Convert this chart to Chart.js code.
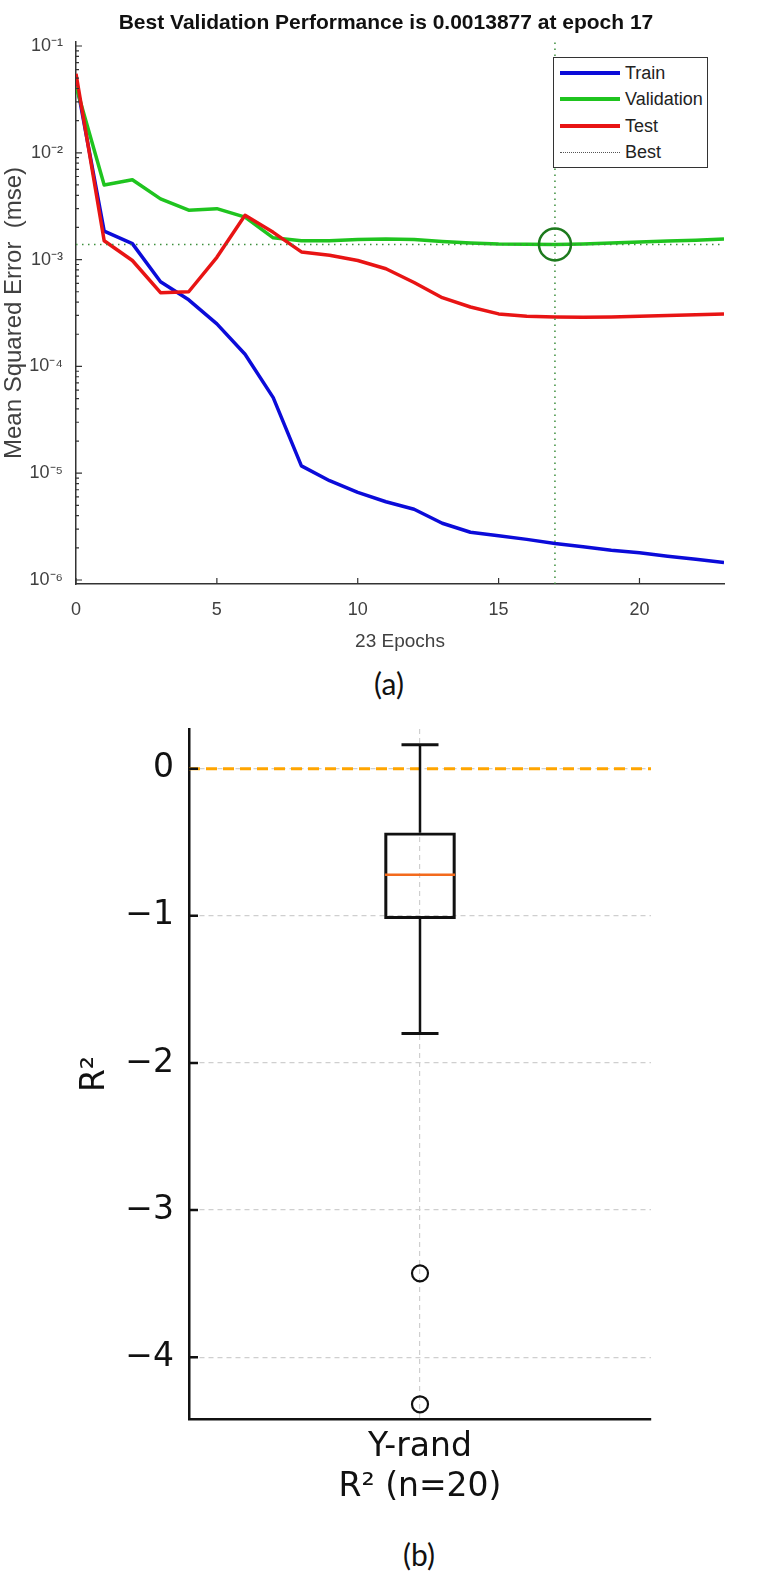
<!DOCTYPE html>
<html>
<head>
<meta charset="utf-8">
<script src="https://cdn.jsdelivr.net/npm/chart.js@4.4.1/dist/chart.umd.min.js"></script>
<style>
    html, body { margin: 0; padding: 0; background: #fff; }
    body { width: 769px; height: 1583px; position: relative; overflow: hidden; }
    .wrap { position: absolute; left: 0; width: 769px; }
    #wrapA { top: 0; height: 660px; }
    #wrapB { top: 700px; height: 820px; }
    .panel { position: absolute; transform: translate(-50%, -50%); font-family: Lato, "Open Sans", sans-serif; font-size: 30px; color: #111; }
    #titleA { position: absolute; left: 386px; top: 22px; transform: translate(-50%, -50%); white-space: nowrap; font-family: "Liberation Sans", Arial, sans-serif; font-size: 21px; font-weight: bold; color: #111; }
    #legendA { position: absolute; left: 553px; top: 57px; width: 153px; height: 107px; border: 1.5px solid #333; background: #fff; padding-top: 2px; box-sizing: content-box; font-family: "Liberation Sans", Arial, sans-serif; font-size: 18px; color: #222; }
    #legendA .row { position: relative; height: 26.3px; line-height: 26.3px; padding-left: 71px; }
    #legendA .swatch { position: absolute; left: 6px; top: 13px; width: 60px; height: 0; }
</style>
</head>
<body>
<div class="wrap" id="wrapA"><canvas id="chartA" width="769" height="660"></canvas></div>
<div id="titleA">Best Validation Performance is 0.0013877 at epoch 17</div>
<div id="legendA"></div>
<div class="panel" style="left:389px; top:683px;">(a)</div>
<div class="wrap" id="wrapB"><canvas id="chartB" width="769" height="820"></canvas></div>
<div class="panel" style="left:419px; top:1554px;">(b)</div>

<script>
// ---- (a) training performance ----
const epochs = [0, 1, 2, 3, 4, 5, 6, 7, 8, 9, 10, 11, 12, 13, 14, 15, 16, 17, 18, 19, 20, 21, 22, 23];
const trainMse = [0.048, 1.85e-3, 1.41e-3, 6.2e-4, 4.2e-4, 2.5e-4, 1.3e-4, 5.1e-5, 1.17e-5, 8.5e-6, 6.6e-6, 5.4e-6,
    4.6e-6, 3.4e-6, 2.8e-6, 2.6e-6, 2.4e-6, 2.2e-6, 2.05e-6, 1.9e-6, 1.8e-6, 1.67e-6, 1.56e-6, 1.46e-6];
const valMse = [0.042, 5.0e-3, 5.6e-3, 3.7e-3, 2.9e-3, 3.0e-3, 2.5e-3, 1.6e-3, 1.5e-3, 1.5e-3, 1.54e-3, 1.56e-3,
    1.54e-3, 1.48e-3, 1.43e-3, 1.40e-3, 1.39e-3, 1.3877e-3, 1.40e-3, 1.43e-3, 1.46e-3, 1.49e-3, 1.52e-3, 1.56e-3];
const testMse = [0.055, 1.5e-3, 9.8e-4, 4.9e-4, 5.0e-4, 1.05e-3, 2.6e-3, 1.8e-3, 1.18e-3, 1.1e-3, 9.8e-4, 8.2e-4,
    6.1e-4, 4.4e-4, 3.6e-4, 3.1e-4, 2.95e-4, 2.9e-4, 2.88e-4, 2.9e-4, 2.95e-4, 3.0e-4, 3.05e-4, 3.1e-4];
const bestEpoch = 17;
const bestPerf = 0.0013877;
const xTicksA = [0, 5, 10, 15, 20];
const yTicksA = [1e-6, 1e-5, 1e-4, 1e-3, 1e-2, 1e-1];
const yMinA = 0.917e-6;
const yMaxA = 0.109;

// ---- (b) y-randomisation box plot ----
const r2Labels = ['Y-rand'];
const r2Quartiles = [-1.02, -0.72, -0.435];   // Q1, median, Q3
const r2Whiskers = [-1.80, 0.163];            // low, high
const r2Outliers = [-3.43, -4.32];
const yTicksB = [-4, -3, -2, -1, 0];

const fontA = '"Liberation Sans", Arial, sans-serif';
const fontB = '"DejaVu Sans", sans-serif';
const axisGrey = '#404040';

const seriesA = [
    { label: 'Train', data: trainMse, color: '#0b0bd9' },
    { label: 'Validation', data: valMse, color: '#1fc41f' },
    { label: 'Test', data: testMse, color: '#e81414' }
];

// legend (a), drawn in HTML inside the plot
const legendA = document.getElementById('legendA');
seriesA.forEach(s => {
    legendA.insertAdjacentHTML('beforeend',
        '<div class="row"><span class="swatch" style="border-top:4px solid ' + s.color + '; margin-top:-2px"></span>' + s.label + '</div>');
});
legendA.insertAdjacentHTML('beforeend',
    '<div class="row"><span class="swatch" style="border-top:1.5px dotted #555"></span>Best</div>');

const supMap = { '-': '\u207B', '0': '\u2070', '1': '\u00B9', '2': '\u00B2', '3': '\u00B3', '4': '\u2074', '5': '\u2075', '6': '\u2076', '7': '\u2077', '8': '\u2078', '9': '\u2079' };
function tenPow(v) {
    const e = String(Math.round(Math.log10(v)));
    return '10' + e.split('').map(c => supMap[c]).join('');
}

// MATLAB-style inward tick marks (major + minor on the log axis)
const ticksInA = {
    id: 'ticksInA',
    afterDraw(chart) {
        const { ctx, chartArea } = chart;
        const xs = chart.scales.x, ys = chart.scales.y;
        ctx.save();
        ctx.strokeStyle = '#333';
        ctx.lineWidth = 1.2;
        ctx.beginPath();
        xTicksA.forEach(v => {
            const p = xs.getPixelForValue(v);
            ctx.moveTo(p, chartArea.bottom);
            ctx.lineTo(p, chartArea.bottom - 6);
        });
        yTicksA.forEach(dec => {
            for (let m = 1; m <= 9; m++) {
                const v = dec * m;
                if (v < yMinA || v > yMaxA) continue;
                const p = ys.getPixelForValue(v);
                ctx.moveTo(chartArea.left, p);
                ctx.lineTo(chartArea.left + (m === 1 ? 6 : 3), p);
            }
        });
        ctx.stroke();
        ctx.restore();
    }
};

const pts = arr => epochs.map((e, i) => ({ x: e, y: arr[i] }));

new Chart(document.getElementById('chartA'), {
    type: 'line',
    data: {
        datasets: [
            ...seriesA.map((s, i) => ({
                label: s.label,
                data: pts(s.data),
                borderColor: s.color,
                borderWidth: 3.5,
                borderJoinStyle: 'round',
                pointRadius: 0,
                tension: 0,
                order: 4 - i
            })),
            {
                label: 'Best',
                data: [{ x: epochs[0], y: bestPerf }, { x: epochs[epochs.length - 1], y: bestPerf }],
                borderColor: '#3d8f3d',
                borderWidth: 1.5,
                borderDash: [1.5, 4.5],
                pointRadius: 0,
                order: 1
            },
            {
                label: 'Best epoch',
                data: [{ x: bestEpoch, y: yMinA }, { x: bestEpoch, y: yMaxA }],
                borderColor: '#3d8f3d',
                borderWidth: 1.5,
                borderDash: [1.5, 4.5],
                pointRadius: 0,
                order: 1
            },
            {
                label: 'Best point',
                data: [{ x: bestEpoch, y: bestPerf }],
                showLine: false,
                pointRadius: 16,
                pointBorderWidth: 2.5,
                pointBorderColor: '#1d7a1d',
                pointBackgroundColor: 'rgba(0,0,0,0)',
                order: 0
            }
        ]
    },
    options: {
        responsive: false,
        animation: false,
        layout: { autoPadding: false, padding: { top: 42, right: 45, bottom: 0, left: 0 } },
        plugins: {
            legend: { display: false },
            tooltip: { enabled: false }
        },
        scales: {
            x: {
                type: 'linear',
                min: 0,
                max: 23,
                afterBuildTicks: s => { s.ticks = xTicksA.map(v => ({ value: v })); },
                afterFit: s => { s.height = 76; },
                grid: { display: false, drawTicks: false },
                border: { display: true, color: '#333', width: 1.5 },
                ticks: { color: axisGrey, font: { family: fontA, size: 18 }, padding: 15, maxRotation: 0 },
                title: { display: true, text: '23 Epochs', color: axisGrey, font: { family: fontA, size: 19 }, padding: { top: 0, bottom: 7 } }
            },
            y: {
                type: 'logarithmic',
                min: yMinA,
                max: yMaxA,
                afterBuildTicks: s => { s.ticks = yTicksA.map(v => ({ value: v })); },
                afterFit: s => { s.width = 76; s.paddingTop = 0; s.paddingBottom = 0; },
                grid: { display: false, drawTicks: false },
                border: { display: true, color: '#333', width: 1.5 },
                ticks: { color: axisGrey, font: { family: fontA, size: 18 }, padding: 13, callback: v => tenPow(v) },
                title: { display: true, text: 'Mean Squared Error  (mse)', color: axisGrey, font: { family: fontA, size: 24 }, padding: { top: 0, bottom: 0 } }
            }
        }
    },
    plugins: [ticksInA]
});

// inward y ticks for (b)
const ticksInB = {
    id: 'ticksInB',
    afterDraw(chart) {
        const { ctx, chartArea } = chart;
        const ys = chart.scales.y;
        ctx.save();
        ctx.strokeStyle = '#111';
        ctx.lineWidth = 2.5;
        ctx.beginPath();
        yTicksB.forEach(v => {
            const p = ys.getPixelForValue(v);
            ctx.moveTo(chartArea.left, p);
            ctx.lineTo(chartArea.left + 9, p);
        });
        ctx.stroke();
        ctx.restore();
    }
};

const cat = r2Labels[0];
new Chart(document.getElementById('chartB'), {
    type: 'bar',
    data: {
        labels: r2Labels,
        datasets: [
            {
                label: 'R² = 0',
                type: 'line',
                xAxisID: 'xRef',
                data: [{ x: 0, y: 0 }, { x: 1, y: 0 }],
                borderColor: '#ffa500',
                borderWidth: 3,
                borderDash: [11, 6],
                pointRadius: 0,
                order: 6
            },
            {
                label: 'IQR',
                type: 'bar',
                data: [[r2Quartiles[0], r2Quartiles[2]]],
                grouped: false,
                barThickness: 71,
                borderWidth: 2.5,
                borderColor: '#111',
                backgroundColor: 'rgba(0,0,0,0)',
                borderSkipped: false,
                order: 3
            },
            {
                label: 'upper whisker',
                type: 'line',
                data: [{ x: cat, y: r2Quartiles[2] }, { x: cat, y: r2Whiskers[1] }],
                borderColor: '#111',
                borderWidth: 2.5,
                pointRadius: 0,
                order: 4
            },
            {
                label: 'lower whisker',
                type: 'line',
                data: [{ x: cat, y: r2Quartiles[0] }, { x: cat, y: r2Whiskers[0] }],
                borderColor: '#111',
                borderWidth: 2.5,
                pointRadius: 0,
                order: 4
            },
            {
                label: 'caps',
                type: 'line',
                data: r2Whiskers.map(v => ({ x: cat, y: v })),
                showLine: false,
                pointStyle: 'line',
                pointRadius: 18.5,
                pointBorderWidth: 3,
                pointBorderColor: '#111',
                order: 2
            },
            {
                label: 'median',
                type: 'line',
                data: [{ x: cat, y: r2Quartiles[1] }],
                showLine: false,
                pointStyle: 'line',
                pointRadius: 35,
                pointBorderWidth: 2.5,
                pointBorderColor: '#f36a1d',
                order: 1
            },
            {
                label: 'outliers',
                type: 'line',
                data: r2Outliers.map(v => ({ x: cat, y: v })),
                showLine: false,
                pointStyle: 'circle',
                pointRadius: 8,
                pointBorderWidth: 2.2,
                pointBorderColor: '#111',
                pointBackgroundColor: 'rgba(0,0,0,0)',
                order: 0
            }
        ]
    },
    options: {
        responsive: false,
        animation: false,
        layout: { autoPadding: false, padding: { top: 29, right: 118, bottom: 0, left: 0 } },
        plugins: {
            legend: { display: false },
            tooltip: { enabled: false }
        },
        scales: {
            x: {
                type: 'category',
                offset: true,
                afterFit: s => { s.height = 101; },
                grid: { display: true, offset: false, color: '#cfcfcf', lineWidth: 1.2, drawTicks: false },
                border: { display: true, color: '#111', width: 2.5, dash: [5, 4] },
                ticks: { color: '#111', font: { family: fontB, size: 33 }, padding: 9 },
                title: { display: true, text: 'R² (n=20)', color: '#111', font: { family: fontB, size: 33 }, padding: { top: 0, bottom: 13 } }
            },
            xRef: { type: 'linear', display: false, offset: false, min: 0, max: 1 },
            y: {
                type: 'linear',
                min: -4.42,
                max: 0.27,
                afterBuildTicks: s => { s.ticks = yTicksB.map(v => ({ value: v })); },
                afterFit: s => { s.width = 189; s.paddingTop = 0; s.paddingBottom = 0; },
                grid: { color: '#cfcfcf', lineWidth: 1.2, drawTicks: false },
                border: { display: true, color: '#111', width: 2.5, dash: [5, 4] },
                ticks: {
                    color: '#111',
                    font: { family: fontB, size: 33 },
                    padding: 15,
                    callback: v => (v < 0 ? '\u2212' + Math.abs(v) : String(v))
                },
                title: { display: true, text: 'R²', color: '#111', font: { family: fontB, size: 33 }, padding: { top: 76, bottom: 0 } }
            }
        }
    },
    plugins: [ticksInB]
});
</script>
</body>
</html>
